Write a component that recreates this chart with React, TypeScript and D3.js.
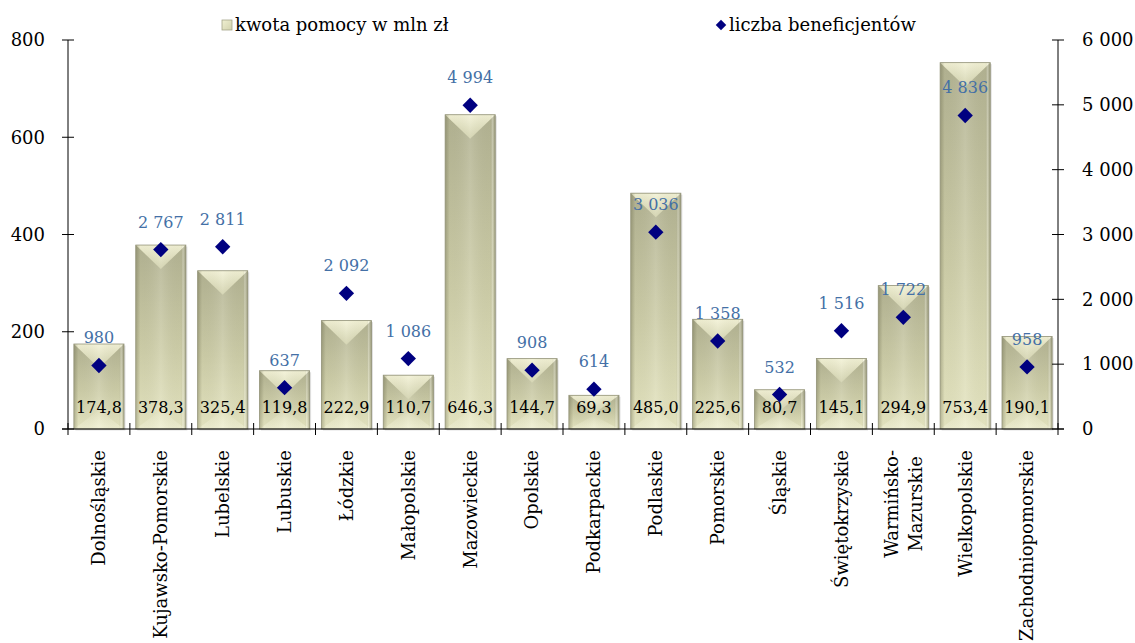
import React, { useEffect, useRef } from 'react';
import * as d3 from 'd3';

const regions = [
  'Dolnośląskie',
  'Kujawsko-Pomorskie',
  'Lubelskie',
  'Lubuskie',
  'Łódzkie',
  'Małopolskie',
  'Mazowieckie',
  'Opolskie',
  'Podkarpackie',
  'Podlaskie',
  'Pomorskie',
  'Śląskie',
  'Świętokrzyskie',
  'Warmińsko-\nMazurskie',
  'Wielkopolskie',
  'Zachodniopomorskie',
];
const amounts = [174.8, 378.3, 325.4, 119.8, 222.9, 110.7, 646.3, 144.7, 69.3, 485.0, 225.6, 80.7, 145.1, 294.9, 753.4, 190.1];
const beneficiaries = [980, 2767, 2811, 637, 2092, 1086, 4994, 908, 614, 3036, 1358, 532, 1516, 1722, 4836, 958];
const leftTicks = [0, 200, 400, 600, 800];
const rightTicks = [0, 1000, 2000, 3000, 4000, 5000, 6000];
const legendLabels = ['kwota pomocy w mln zł', 'liczba beneficjentów'];

const FONT = '"DejaVu Serif", serif';
const plLocale = d3.formatLocale({ decimal: ',', thousands: '\u00a0', grouping: [3], currency: ['', ''] });
const fmtInt = plLocale.format(',d');
const fmtDec = plLocale.format('.1f');

export default function App() {
  const ref = useRef<SVGSVGElement | null>(null);

  useEffect(() => {
    const svg = d3.select(ref.current);
    svg.selectAll('*').remove();

    const left = 68;
    const right = 1058;
    const top = 40;
    const bottom = 429;

    const x = d3.scaleBand<number>()
      .domain(d3.range(regions.length))
      .range([left, right])
      .paddingInner(0.19)
      .paddingOuter(0.095);
    const yL = d3.scaleLinear().domain([0, 800]).range([bottom, top]);
    const yR = d3.scaleLinear().domain([0, 6000]).range([bottom, top]);

    const defs = svg.append('defs');
    const vg = defs.append('linearGradient').attr('id', 'barV').attr('x1', 0).attr('y1', 0).attr('x2', 0).attr('y2', 1);
    vg.append('stop').attr('offset', '0%').attr('stop-color', '#b2b292');
    vg.append('stop').attr('offset', '55%').attr('stop-color', '#cdcda8');
    vg.append('stop').attr('offset', '100%').attr('stop-color', '#e6e6c2');

    const hg = defs.append('linearGradient').attr('id', 'barH').attr('x1', 0).attr('y1', 0).attr('x2', 1).attr('y2', 0);
    hg.append('stop').attr('offset', '0%').attr('stop-color', '#5a5a3c').attr('stop-opacity', 0.35);
    hg.append('stop').attr('offset', '9%').attr('stop-color', '#5a5a3c').attr('stop-opacity', 0.03);
    hg.append('stop').attr('offset', '50%').attr('stop-color', '#ffffff').attr('stop-opacity', 0.12);
    hg.append('stop').attr('offset', '90%').attr('stop-color', '#5a5a3c').attr('stop-opacity', 0.03);
    hg.append('stop').attr('offset', '94%').attr('stop-color', '#ffffff').attr('stop-opacity', 0.25);
    hg.append('stop').attr('offset', '100%').attr('stop-color', '#5a5a3c').attr('stop-opacity', 0.4);

    const tg = defs.append('linearGradient').attr('id', 'barTop').attr('x1', 0).attr('y1', 0).attr('x2', 0).attr('y2', 1);
    tg.append('stop').attr('offset', '0%').attr('stop-color', '#f3f2d6');
    tg.append('stop').attr('offset', '100%').attr('stop-color', '#d0d0ab');

    const bg = defs.append('linearGradient').attr('id', 'barBot').attr('x1', 0).attr('y1', 1).attr('x2', 0).attr('y2', 0);
    bg.append('stop').attr('offset', '0%').attr('stop-color', '#f6f6dc').attr('stop-opacity', 0.6);
    bg.append('stop').attr('offset', '100%').attr('stop-color', '#f6f6dc').attr('stop-opacity', 0);

    const lgGrad = defs.append('linearGradient').attr('id', 'legSq').attr('x1', 0).attr('y1', 0).attr('x2', 1).attr('y2', 1);
    lgGrad.append('stop').attr('offset', '0%').attr('stop-color', '#f0f0d2');
    lgGrad.append('stop').attr('offset', '100%').attr('stop-color', '#d2d2ae');

    // bars
    const bars = svg.append('g')
      .selectAll('g')
      .data(amounts)
      .enter()
      .append('g');

    bars.append('rect')
      .attr('x', (d, i) => x(i)! + 1.5)
      .attr('y', (d) => yL(d) + 1.5)
      .attr('width', x.bandwidth())
      .attr('height', (d) => bottom - yL(d))
      .attr('fill', 'rgba(0,0,0,0.12)');

    bars.append('rect')
      .attr('x', (d, i) => x(i)!)
      .attr('y', (d) => yL(d))
      .attr('width', x.bandwidth())
      .attr('height', (d) => bottom - yL(d))
      .attr('fill', 'url(#barV)');

    bars.append('path')
      .attr('d', (d, i) => {
        const x0 = x(i)!;
        const x1 = x0 + x.bandwidth();
        const h = bottom - yL(d);
        const depth = Math.min(x.bandwidth() * 0.38, h * 0.4);
        return `M${x0},${bottom}L${x1},${bottom}L${(x0 + x1) / 2},${bottom - depth}Z`;
      })
      .attr('fill', 'url(#barBot)');

    bars.append('path')
      .attr('d', (d, i) => {
        const x0 = x(i)!;
        const x1 = x0 + x.bandwidth();
        const h = bottom - yL(d);
        const depth = Math.min(x.bandwidth() * 0.48, h * 0.55);
        const y0 = yL(d);
        return `M${x0},${y0}L${x1},${y0}L${(x0 + x1) / 2},${y0 + depth}Z`;
      })
      .attr('fill', 'url(#barTop)');

    bars.append('rect')
      .attr('x', (d, i) => x(i)!)
      .attr('y', (d) => yL(d))
      .attr('width', x.bandwidth())
      .attr('height', (d) => bottom - yL(d))
      .attr('fill', 'url(#barH)')
      .attr('stroke', '#94947a')
      .attr('stroke-width', 0.8);

    // bar value labels
    svg.append('g')
      .selectAll('text')
      .data(amounts)
      .enter()
      .append('text')
      .attr('x', (d, i) => x(i)! + x.bandwidth() / 2)
      .attr('y', bottom - 16)
      .attr('text-anchor', 'middle')
      .attr('font-family', FONT)
      .attr('font-size', 16)
      .attr('fill', '#000')
      .text((d) => fmtDec(d));

    // axes
    const g = svg.append('g').attr('stroke', '#000').attr('stroke-width', 1);
    g.append('line').attr('x1', left).attr('x2', left).attr('y1', top).attr('y2', bottom);
    g.append('line').attr('x1', right).attr('x2', right).attr('y1', top).attr('y2', bottom);
    g.append('line').attr('x1', left - 6).attr('x2', right + 6).attr('y1', bottom).attr('y2', bottom);

    g.selectAll('.tl')
      .data(leftTicks)
      .enter()
      .append('line')
      .attr('x1', left - 6)
      .attr('x2', left + 6)
      .attr('y1', (d) => yL(d))
      .attr('y2', (d) => yL(d));
    g.selectAll('.tr')
      .data(rightTicks)
      .enter()
      .append('line')
      .attr('x1', right - 6)
      .attr('x2', right + 6)
      .attr('y1', (d) => yR(d))
      .attr('y2', (d) => yR(d));

    const step = x.step();
    const boundaries = d3.range(regions.length + 1).map((i) => (i < regions.length ? x(i)! - (step - x.bandwidth()) / 2 : right));
    g.selectAll('.tb')
      .data(boundaries)
      .enter()
      .append('line')
      .attr('x1', (d) => d)
      .attr('x2', (d) => d)
      .attr('y1', bottom - 6)
      .attr('y2', bottom + 6);

    svg.append('g')
      .selectAll('text')
      .data(leftTicks)
      .enter()
      .append('text')
      .attr('x', left - 23)
      .attr('y', (d) => yL(d))
      .attr('dy', '0.35em')
      .attr('text-anchor', 'end')
      .attr('font-family', FONT)
      .attr('font-size', 18)
      .text((d) => fmtInt(d));

    svg.append('g')
      .selectAll('text')
      .data(rightTicks)
      .enter()
      .append('text')
      .attr('x', right + 24)
      .attr('y', (d) => yR(d))
      .attr('dy', '0.35em')
      .attr('text-anchor', 'start')
      .attr('font-family', FONT)
      .attr('font-size', 18)
      .text((d) => fmtInt(d));

    // category labels (rotated)
    const labelTop = 450;
    const cat = svg.append('g');
    regions.forEach((name, i) => {
      const cx = x(i)! + x.bandwidth() / 2;
      const lines = name.split('\n');
      if (lines.length === 1) {
        cat.append('text')
          .attr('transform', `translate(${cx},${labelTop}) rotate(-90)`)
          .attr('text-anchor', 'end')
          .attr('dy', '0.35em')
          .attr('font-family', FONT)
          .attr('font-size', 18)
          .text(name);
      } else {
        const nodes = lines.map((ln) =>
          cat.append('text')
            .attr('text-anchor', 'middle')
            .attr('dy', '0.35em')
            .attr('font-family', FONT)
            .attr('font-size', 18)
            .text(ln)
        );
        const maxLen = d3.max(nodes, (n) => (n.node() as SVGTextElement).getComputedTextLength()) || 0;
        const cy = labelTop + maxLen / 2;
        nodes.forEach((n, k) => {
          const off = (k - (lines.length - 1) / 2) * 24;
          n.attr('transform', `translate(${cx + off},${cy}) rotate(-90)`);
        });
      }
    });

    // beneficiaries markers
    const diamond = d3.symbol().type(d3.symbolDiamond2).size(150);
    svg.append('g')
      .selectAll('path')
      .data(beneficiaries)
      .enter()
      .append('path')
      .attr('d', diamond)
      .attr('transform', (d, i) => `translate(${x(i)! + x.bandwidth() / 2},${yR(d)})`)
      .attr('fill', '#000080');

    svg.append('g')
      .selectAll('text')
      .data(beneficiaries)
      .enter()
      .append('text')
      .attr('x', (d, i) => x(i)! + x.bandwidth() / 2)
      .attr('y', (d) => yR(d) - 22)
      .attr('text-anchor', 'middle')
      .attr('font-family', FONT)
      .attr('font-size', 16)
      .attr('fill', '#4470a6')
      .text((d) => fmtInt(d));

    // legend
    const lg = svg.append('g').attr('font-family', FONT).attr('font-size', 18);
    lg.append('rect')
      .attr('x', 222)
      .attr('y', 20)
      .attr('width', 10)
      .attr('height', 10)
      .attr('fill', 'url(#legSq)')
      .attr('stroke', '#a5a58a')
      .attr('stroke-width', 0.8);
    lg.append('text').attr('x', 235).attr('y', 25).attr('dy', '0.35em').text(legendLabels[0]);
    lg.append('path')
      .attr('d', d3.symbol().type(d3.symbolDiamond2).size(70)())
      .attr('transform', 'translate(721,25)')
      .attr('fill', '#000080');
    lg.append('text').attr('x', 729).attr('y', 25).attr('dy', '0.35em').text(legendLabels[1]);
  }, []);

  return (
    <svg
      ref={ref}
      width={1135}
      height={643}
      style={{ position: 'absolute', left: 0, top: 0, background: '#fff' }}
    />
  );
}
